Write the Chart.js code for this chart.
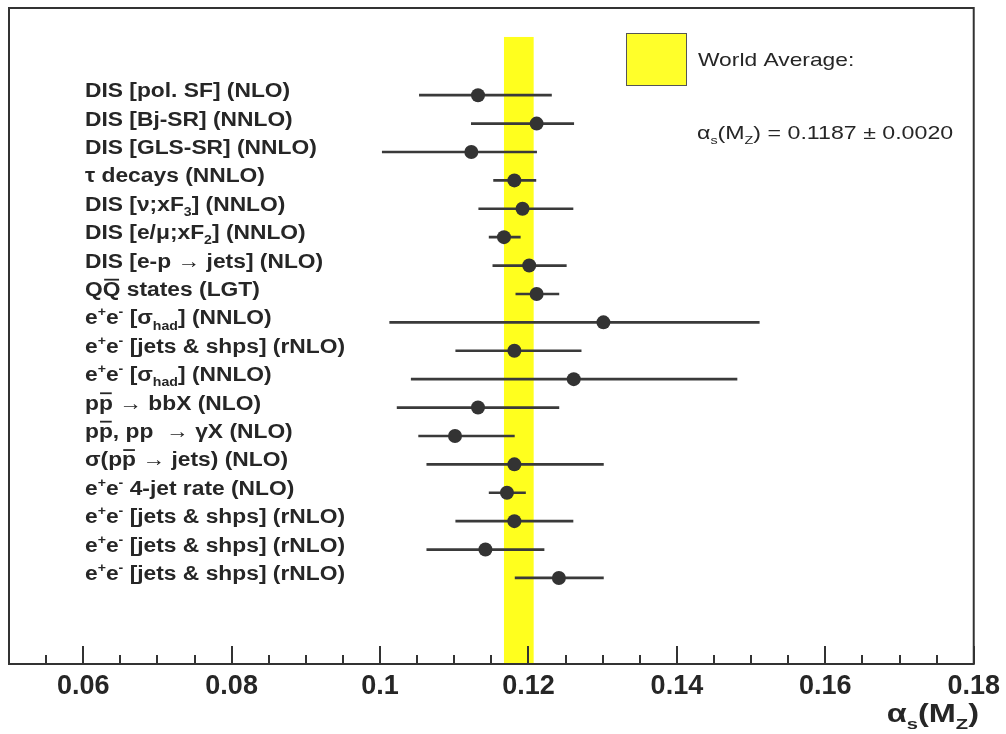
<!DOCTYPE html>
<html>
<head>
<meta charset="utf-8">
<script src="https://cdn.jsdelivr.net/npm/chart.js@4.4.1/dist/chart.umd.min.js"></script>
<style>
    html, body { margin: 0; padding: 0; background: #fff; }
    #wrap { width: 1006px; height: 734px; }
</style>
</head>
<body>
<div id="wrap"><canvas id="alphaChart" width="1006" height="734"></canvas></div>
<script>
// measurement labels, top to bottom (^{} sup, _{} sub, ~{} overline)
const measurements = [
    'DIS [pol. SF] (NLO)',
    'DIS [Bj-SR] (NNLO)',
    'DIS [GLS-SR] (NNLO)',
    'τ decays (NNLO)',
    'DIS [ν;xF_{3}] (NNLO)',
    'DIS [e/μ;xF_{2}] (NNLO)',
    'DIS [e-p → jets] (NLO)',
    'Q~{Q} states (LGT)',
    'e^{+}e^{-} [σ_{had}] (NNLO)',
    'e^{+}e^{-} [jets & shps] (rNLO)',
    'e^{+}e^{-} [σ_{had}] (NNLO)',
    'p~{p} → bbX (NLO)',
    'p~{p}, pp  → γX (NLO)',
    'σ(p~{p} → jets) (NLO)',
    'e^{+}e^{-} 4-jet rate (NLO)',
    'e^{+}e^{-} [jets & shps] (rNLO)',
    'e^{+}e^{-} [jets & shps] (rNLO)',
    'e^{+}e^{-} [jets & shps] (rNLO)'
];
const central = [0.1132, 0.1211, 0.1123, 0.1181, 0.1192, 0.1167, 0.1201, 0.1211, 0.1301,
                 0.1181, 0.1261, 0.1132, 0.1101, 0.1181, 0.1171, 0.1181, 0.1142, 0.1241];
const errLow  = [0.1053, 0.1123, 0.1003, 0.1153, 0.1133, 0.1147, 0.1152, 0.1183, 0.1013,
                 0.1102, 0.1042, 0.1023, 0.1052, 0.1063, 0.1147, 0.1102, 0.1063, 0.1182];
const errHigh = [0.1231, 0.1261, 0.1211, 0.1210, 0.1260, 0.1189, 0.1251, 0.1241, 0.1511,
                 0.1271, 0.1481, 0.1241, 0.1181, 0.1301, 0.1196, 0.1260, 0.1221, 0.1301];

const worldAverage = 0.1187;
const worldError = 0.0020;

const xMin = 0.05, xMax = 0.18, minorStep = 0.005;
const majorTickValues = [0.06, 0.08, 0.10, 0.12, 0.14, 0.16, 0.18];
const tickLabels = ['0.06', '0.08', '0.1', '0.12', '0.14', '0.16', '0.18'];

const FONT = '"Liberation Sans", Arial, Helvetica, sans-serif';
const INK = '#262626';

function majorIndex(v) {
    return majorTickValues.findIndex(m => Math.abs(m - v) < 1e-6);
}

// draws text with simple sub/superscripts and overlines, returns width
function drawRich(ctx, text, x, y, size, weight, sx, measureOnly) {
    const parts = text.split(/(\^\{[^}]*\}|_\{[^}]*\}|~\{[^}]*\})/).filter(p => p.length);
    let cx = 0;
    ctx.save();
    ctx.translate(x, y);
    ctx.scale(sx, 1);
    ctx.textAlign = 'left';
    ctx.textBaseline = 'alphabetic';
    for (const p of parts) {
        let t = p, fs = size, dy = 0, bar = false;
        if (p.startsWith('^{')) { t = p.slice(2, -1); fs = size * 0.62; dy = -size * 0.40; }
        else if (p.startsWith('_{')) { t = p.slice(2, -1); fs = size * 0.62; dy = size * 0.26; }
        else if (p.startsWith('~{')) { t = p.slice(2, -1); bar = true; }
        ctx.font = `${weight} ${fs}px ${FONT}`;
        const w = ctx.measureText(t).width;
        if (!measureOnly) {
            ctx.fillText(t, cx, dy);
            if (bar) ctx.fillRect(cx + w * 0.08, -size * 0.86, w * 0.84, size * 0.09);
        }
        cx += w;
    }
    ctx.restore();
    return cx * sx;
}

const decorPlugin = {
    id: 'decor',
    beforeDatasetsDraw(chart) {
        const {ctx, chartArea, scales: {x, y}} = chart;
        // world average band
        const left = x.getPixelForValue(worldAverage - worldError);
        const right = x.getPixelForValue(worldAverage + worldError);
        const top = y.getPixelForValue(-2.05);
        ctx.save();
        ctx.fillStyle = '#ffff1e';
        ctx.fillRect(left, top, right - left, chartArea.bottom - top);
        ctx.restore();
    },
    afterDraw(chart) {
        const {ctx, chartArea, scales: {x, y}} = chart;
        ctx.save();

        // frame
        ctx.strokeStyle = '#333';
        ctx.lineWidth = 2;
        ctx.strokeRect(chartArea.left, chartArea.top, chartArea.right - chartArea.left, chartArea.bottom - chartArea.top);

        // inward ticks
        ctx.lineWidth = 2;
        ctx.beginPath();
        x.ticks.forEach(t => {
            const px = Math.round(x.getPixelForValue(t.value));
            const len = majorIndex(t.value) >= 0 ? 18 : 9;
            ctx.moveTo(px, chartArea.bottom);
            ctx.lineTo(px, chartArea.bottom - len);
        });
        ctx.stroke();

        // measurement labels
        ctx.fillStyle = INK;
        measurements.forEach((m, i) => {
            drawRich(ctx, m, 85, y.getPixelForValue(i) + 2, 20, 'bold', 1.14);
        });

        // axis title
        const title = 'α_{s}(M_{Z})';
        const tw = drawRich(ctx, title, 0, 0, 25, 'bold', 1.3, true);
        drawRich(ctx, title, 979 - tw, 722, 25, 'bold', 1.3);

        // legend
        ctx.fillStyle = '#ffff2a';
        ctx.fillRect(626, 33, 61, 53);
        ctx.strokeStyle = '#555';
        ctx.lineWidth = 1;
        ctx.strokeRect(626.5, 33.5, 60, 52);
        ctx.fillStyle = INK;
        drawRich(ctx, 'World Average:', 698, 66, 19, 'normal', 1.2);
        drawRich(ctx, 'α_{s}(M_{Z}) = ' + worldAverage.toFixed(4) + ' ± ' + worldError.toFixed(4),
                 697, 139, 19, 'normal', 1.22);
        ctx.restore();
    }
};

const rows = measurements.map((_, i) => i);

new Chart(document.getElementById('alphaChart').getContext('2d'), {
    type: 'bar',
    data: {
        datasets: [
            {
                type: 'bar',
                indexAxis: 'y',
                data: rows.map(i => ({x: [errLow[i], errHigh[i]], y: i})),
                backgroundColor: '#3a3a3a',
                borderWidth: 0,
                barThickness: 2,
                order: 2
            },
            {
                type: 'scatter',
                data: rows.map(i => ({x: central[i], y: i})),
                pointRadius: 7,
                pointHoverRadius: 7,
                backgroundColor: '#333',
                borderWidth: 0,
                order: 1
            }
        ]
    },
    options: {
        responsive: false,
        animation: false,
        events: [],
        layout: { padding: { left: 9, right: 30, top: 8, bottom: 0 } },
        plugins: { legend: { display: false }, tooltip: { enabled: false } },
        scales: {
            x: {
                type: 'linear',
                position: 'bottom',
                offset: false,
                min: xMin,
                max: xMax,
                border: { display: false },
                grid: { display: false, drawTicks: false, offset: false },
                afterBuildTicks: s => {
                    const n = Math.round((xMax - xMin) / minorStep);
                    s.ticks = Array.from({length: n + 1}, (_, k) => ({value: +(xMin + k * minorStep).toFixed(3)}));
                },
                afterFit: s => { s.height = 70; },
                ticks: {
                    autoSkip: false,
                    maxRotation: 0,
                    minRotation: 0,
                    padding: 6,
                    color: INK,
                    font: { family: FONT, size: 27, weight: 'bold' },
                    callback: v => {
                        const k = majorIndex(v);
                        return k >= 0 ? tickLabels[k] : '';
                    }
                }
            },
            y: {
                type: 'linear',
                display: false,
                offset: false,
                reverse: true,
                min: -3.07,
                max: 20.03
            }
        }
    },
    plugins: [decorPlugin]
});
</script>
</body>
</html>
